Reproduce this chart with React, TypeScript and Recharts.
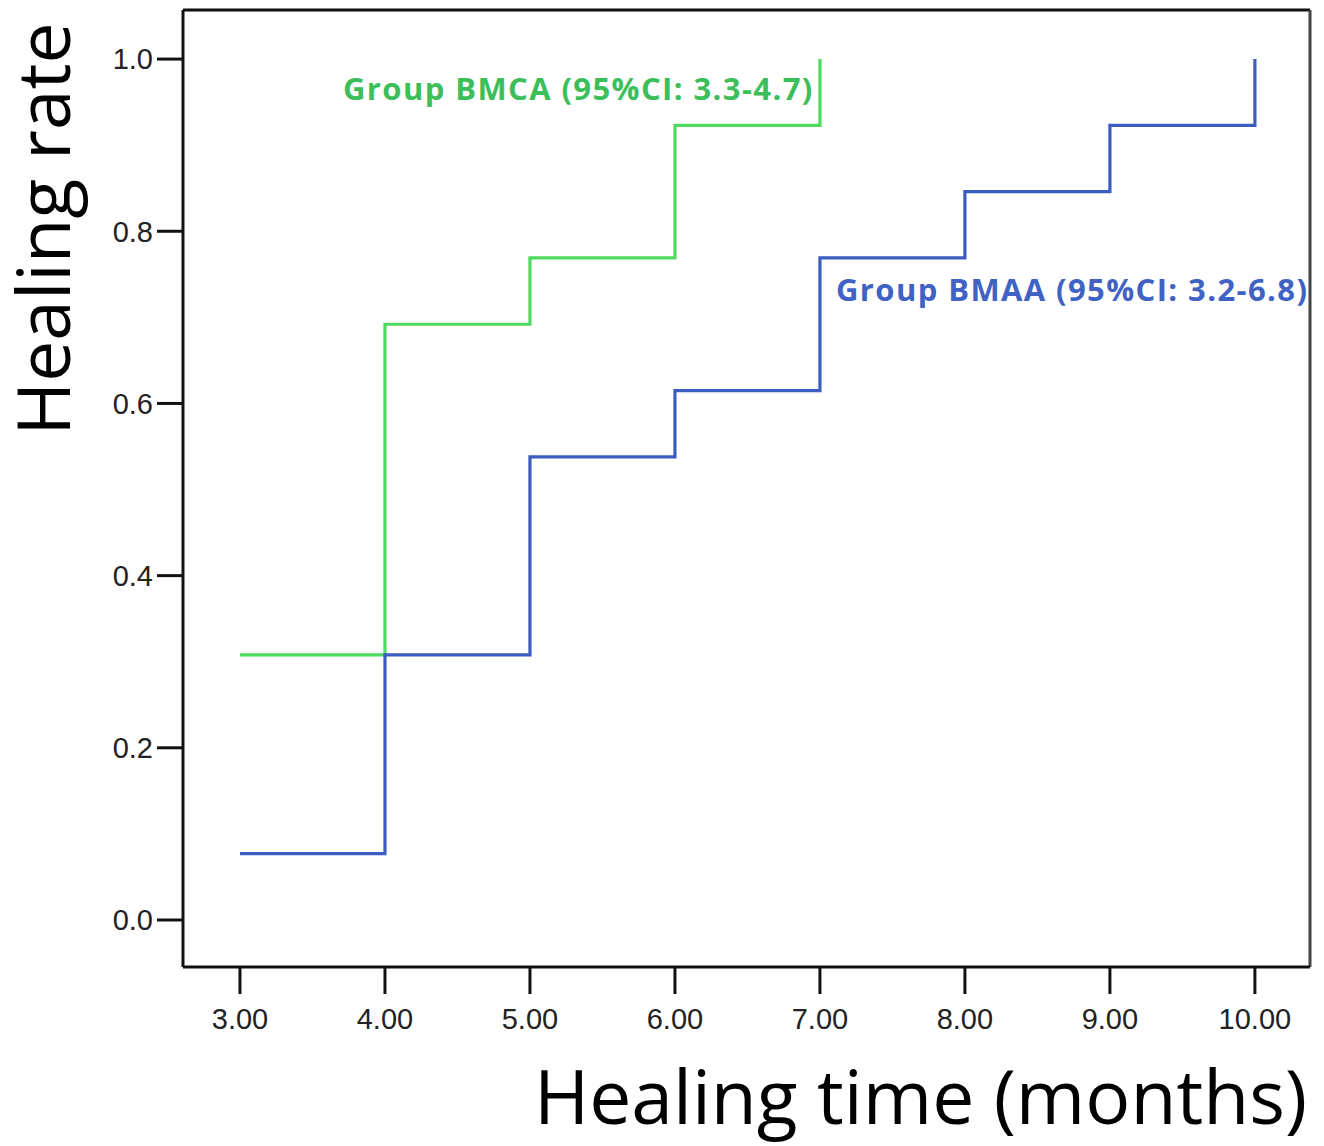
import { LineChart, Line, XAxis, YAxis, ReferenceLine } from 'recharts'

// healing time (months) vs cumulative healing rate
const bmcaTime = [3, 4, 5, 6, 7]
const bmcaRate = [0.308, 0.692, 0.769, 0.923, 1.0]
const bmaaTime = [3, 4, 5, 6, 7, 8, 9, 10]
const bmaaRate = [0.077, 0.308, 0.538, 0.615, 0.769, 0.846, 0.923, 1.0]
const xTicks = [3, 4, 5, 6, 7, 8, 9, 10]
const yTicks = [0, 0.2, 0.4, 0.6, 0.8, 1.0]
const xDomain = [2.607, 10.38]
const yDomain = [-0.0546, 1.057]

const bmca = bmcaTime.map((t, i) => ({ t, rate: bmcaRate[i] }))
const bmaa = bmaaTime.map((t, i) => ({ t, rate: bmaaRate[i] }))

const tickFont = { fontFamily: 'Liberation Sans, Arial, sans-serif', fontSize: 29, fill: '#222' }
const axisStroke = { stroke: '#111', strokeWidth: 3 }

export default function App() {
  return (
    <div style={{ position: 'absolute', left: 0, top: 0, background: '#fff' }}>
      <LineChart width={1324} height={1146} margin={{ top: 10, right: 14, bottom: 119, left: 103 }}>
        <XAxis
          xAxisId="b" type="number" dataKey="t" domain={xDomain} ticks={xTicks} allowDataOverflow
          tickFormatter={(v: number) => v.toFixed(2)} tick={tickFont} tickSize={27} tickMargin={14}
          axisLine={axisStroke} tickLine={axisStroke} height={60}
        />
        <YAxis
          yAxisId="l" type="number" domain={yDomain} ticks={yTicks} allowDataOverflow
          tickFormatter={(v: number) => v.toFixed(1)} tick={tickFont} tickSize={26} tickMargin={4}
          axisLine={axisStroke} tickLine={axisStroke} width={80}
        />
        {/* frame: top and right edges */}
        <ReferenceLine xAxisId="b" yAxisId="l" y={yDomain[1]} stroke="#111" strokeWidth={3} />
        <ReferenceLine xAxisId="b" yAxisId="l" x={xDomain[1]} stroke="#444" strokeWidth={3} />
        <Line xAxisId="b" yAxisId="l" data={bmca} dataKey="rate" type="stepAfter" stroke="#4cdb5e" strokeWidth={3.2} dot={false} isAnimationActive={false} />
        <Line xAxisId="b" yAxisId="l" data={bmaa} dataKey="rate" type="stepAfter" stroke="#3b5cc0" strokeWidth={3.2} dot={false} isAnimationActive={false} />
        <text x={343} y={100} fontFamily="Open Sans, sans-serif" fontWeight={700} fontSize={31} letterSpacing={1.4} fill="#3cbf5a">Group BMCA (95%CI: 3.3-4.7)</text>
        <text x={836} y={301} fontFamily="Open Sans, sans-serif" fontWeight={700} fontSize={31} letterSpacing={1.4} fill="#3f62c4">Group BMAA (95%CI: 3.2-6.8)</text>
        <text x={70} y={229} transform="rotate(-90 70 229)" textAnchor="middle" fontFamily="Open Sans, sans-serif" fontSize={73} fill="#000">Healing rate</text>
        <text x={1307} y={1124} textAnchor="end" fontFamily="Open Sans, sans-serif" fontSize={75} fill="#000">Healing time (months)</text>
      </LineChart>
    </div>
  )
}
